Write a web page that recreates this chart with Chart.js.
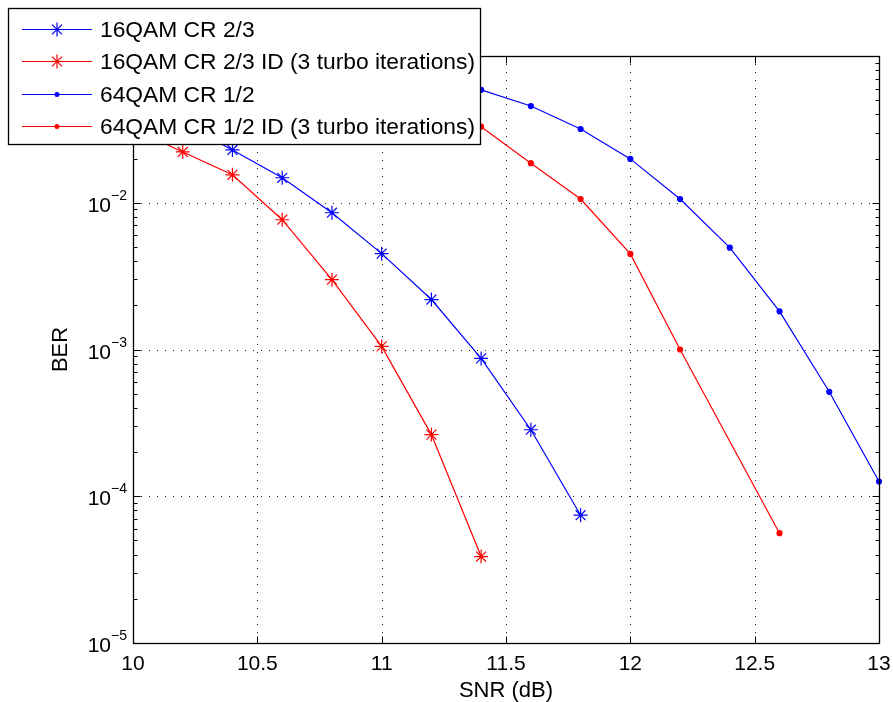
<!DOCTYPE html>
<html>
<head>
<meta charset="utf-8">
<script src="https://cdn.jsdelivr.net/npm/chart.js@4.4.0/dist/chart.umd.min.js"></script>
<style>
  html, body { margin: 0; padding: 0; background: #fff; }
  #wrap { width: 893px; height: 702px; }
</style>
</head>
<body>
<div id="wrap"><canvas id="c" width="893" height="702"></canvas></div>
<script>
// ---- data ----
const snr16 = [10.0, 10.2, 10.4, 10.6, 10.8, 11.0, 11.2, 11.4, 11.6, 11.8];
const ber16 = [0.050, 0.035, 0.0229, 0.0148, 0.00855, 0.0045, 0.00219, 0.00087, 0.000284, 0.0000743];

const snr16id = [10.0, 10.2, 10.4, 10.6, 10.8, 11.0, 11.2, 11.4];
const ber16id = [0.032, 0.0222, 0.0155, 0.00766, 0.00299, 0.00105, 0.000263, 0.0000388];

const snr64 = [11.0, 11.2, 11.4, 11.6, 11.8, 12.0, 12.2, 12.4, 12.6, 12.8, 13.0];
const ber64 = [0.085, 0.072, 0.0588, 0.0456, 0.0318, 0.0199, 0.0106, 0.00494, 0.00182, 0.000515, 0.000126];

const snr64id = [11.0, 11.2, 11.4, 11.6, 11.8, 12.0, 12.2, 12.6];
const ber64id = [0.060, 0.045, 0.033, 0.0186, 0.0106, 0.00448, 0.00100, 0.000056];

const seriesNames = [
  '16QAM CR 2/3',
  '16QAM CR 2/3 ID (3 turbo iterations)',
  '64QAM CR 1/2',
  '64QAM CR 1/2 ID (3 turbo iterations)'
];

const xTicks = [10, 10.5, 11, 11.5, 12, 12.5, 13];
const xTickLabels = ['10', '10.5', '11', '11.5', '12', '12.5', '13'];
const yTickExponents = [-5, -4, -3, -2, -1];
const xTitle = 'SNR (dB)';
const yTitle = 'BER';

// ---- styling ----
const BLUE = '#0000ff';
const RED = '#ff0000';
const FONT = '"Liberation Sans", Arial, Helvetica, sans-serif';

function pts(xs, ys) { return xs.map((x, i) => ({ x: x, y: ys[i] })); }

const styles = [
  { color: BLUE, pointStyle: 'star', radius: 7 },
  { color: RED, pointStyle: 'star', radius: 7 },
  { color: BLUE, pointStyle: 'circle', radius: 2.5 },
  { color: RED, pointStyle: 'circle', radius: 2.5 }
];
const dataSets = [pts(snr16, ber16), pts(snr16id, ber16id), pts(snr64, ber64), pts(snr64id, ber64id)];

const datasets = dataSets.map((d, i) => ({
  label: seriesNames[i],
  data: d,
  showLine: true,
  borderColor: styles[i].color,
  backgroundColor: styles[i].color,
  borderWidth: 1.2,
  tension: 0,
  pointStyle: styles[i].pointStyle,
  pointRadius: styles[i].radius,
  pointHoverRadius: styles[i].radius,
  pointBorderColor: styles[i].color,
  pointBackgroundColor: styles[i].color,
  pointBorderWidth: 1.2,
  clip: false
}));

function seg(ctx, x1, y1, x2, y2) {
  ctx.beginPath(); ctx.moveTo(x1, y1); ctx.lineTo(x2, y2); ctx.stroke();
}

function legendMarker(ctx, style, r, cx, cy, color) {
  ctx.save();
  ctx.strokeStyle = color;
  ctx.fillStyle = color;
  ctx.lineWidth = 1.2;
  if (style === 'star') {
    const d = r * Math.SQRT1_2;
    seg(ctx, cx - r, cy, cx + r, cy);
    seg(ctx, cx, cy - r, cx, cy + r);
    seg(ctx, cx - d, cy - d, cx + d, cy + d);
    seg(ctx, cx - d, cy + d, cx + d, cy - d);
  } else {
    ctx.beginPath();
    ctx.arc(cx, cy, r, 0, Math.PI * 2);
    ctx.fill();
  }
  ctx.restore();
}

const matlabAxes = {
  id: 'matlabAxes',
  beforeDatasetsDraw(chart) {
    const { ctx, chartArea: a, scales: { x, y } } = chart;
    ctx.save();
    ctx.strokeStyle = '#222';
    ctx.lineWidth = 1;
    ctx.setLineDash([1, 7]);
    xTicks.forEach(v => {
      const px = Math.round(x.getPixelForValue(v)) + 0.5;
      if (px > a.left + 1 && px < a.right - 1) seg(ctx, px, a.top, px, a.bottom);
    });
    yTickExponents.forEach(e => {
      const py = Math.round(y.getPixelForValue(Math.pow(10, e))) + 0.5;
      if (py > a.top + 1 && py < a.bottom - 1) seg(ctx, a.left, py, a.right, py);
    });
    ctx.restore();
  },
  afterDatasetsDraw(chart) {
    const { ctx, chartArea: a, scales: { x, y } } = chart;
    ctx.save();
    ctx.setLineDash([]);
    ctx.strokeStyle = '#000';
    ctx.lineWidth = 1;
    const L = Math.round(a.left) + 0.5, R = Math.round(a.right) + 0.5;
    const T = Math.round(a.top) + 0.5, B = Math.round(a.bottom) + 0.5;
    // ticks (inward)
    xTicks.forEach(v => {
      const px = Math.round(x.getPixelForValue(v)) + 0.5;
      seg(ctx, px, B, px, B - 7);
      seg(ctx, px, T, px, T + 7);
    });
    yTickExponents.forEach(e => {
      const py = Math.round(y.getPixelForValue(Math.pow(10, e))) + 0.5;
      seg(ctx, L, py, L + 7, py);
      seg(ctx, R, py, R - 7, py);
      if (e < -1) {
        for (let m = 2; m <= 9; m++) {
          const pm = Math.round(y.getPixelForValue(m * Math.pow(10, e))) + 0.5;
          seg(ctx, L, pm, L + 4, pm);
          seg(ctx, R, pm, R - 4, pm);
        }
      }
    });
    // frame
    ctx.lineWidth = 1.3;
    ctx.strokeRect(L, T, R - L, B - T);

    // tick labels
    ctx.fillStyle = '#000';
    ctx.font = '21px ' + FONT;
    ctx.textAlign = 'center';
    ctx.textBaseline = 'alphabetic';
    xTicks.forEach((v, i) => {
      ctx.fillText(xTickLabels[i], x.getPixelForValue(v), a.bottom + 27);
    });
    yTickExponents.forEach(e => {
      const py = y.getPixelForValue(Math.pow(10, e));
      const sup = '\u2212' + Math.abs(e);
      ctx.font = '14px ' + FONT;
      ctx.textAlign = 'right';
      const supW = ctx.measureText(sup).width;
      const rightX = a.left - 6;
      ctx.fillText(sup, rightX, py - 3);
      ctx.font = '21px ' + FONT;
      ctx.fillText('10', rightX - supW, py + 9);
    });
    // axis titles
    ctx.font = '22px ' + FONT;
    ctx.textAlign = 'center';
    ctx.fillText(xTitle, (a.left + a.right) / 2, a.bottom + 54);
    ctx.save();
    ctx.translate(67, (a.top + a.bottom) / 2);
    ctx.rotate(-Math.PI / 2);
    ctx.fillText(yTitle, 0, 0);
    ctx.restore();

    // legend box (overlapping plot, MATLAB style)
    const bx = 8.5, by = 8.5, bw = 472, bh = 136;
    ctx.fillStyle = '#fff';
    ctx.fillRect(bx, by, bw, bh);
    ctx.strokeStyle = '#000';
    ctx.lineWidth = 1.3;
    ctx.strokeRect(bx, by, bw, bh);
    const rows = [29.5, 61.5, 94.5, 126.5];
    chart.data.datasets.forEach((ds, i) => {
      const ry = rows[i];
      ctx.save();
      ctx.strokeStyle = ds.borderColor;
      ctx.lineWidth = 1.2;
      seg(ctx, 22, ry, 92, ry);
      ctx.restore();
      legendMarker(ctx, ds.pointStyle, ds.pointRadius, 57, ry, ds.borderColor);
      ctx.fillStyle = '#000';
      ctx.font = '22.8px ' + FONT;
      ctx.textAlign = 'left';
      ctx.textBaseline = 'middle';
      ctx.fillText(ds.label, 100, ry + 1);
    });
    ctx.restore();
  }
};

new Chart(document.getElementById('c'), {
  type: 'scatter',
  data: { datasets: datasets },
  options: {
    responsive: false,
    animation: false,
    devicePixelRatio: 1,
    layout: { padding: { left: 133, top: 56, right: 14, bottom: 59 } },
    plugins: { legend: { display: false }, title: { display: false }, tooltip: { enabled: false } },
    scales: {
      x: { type: 'linear', min: 10, max: 13, display: false },
      y: { type: 'logarithmic', min: 1e-5, max: 1e-1, display: false }
    }
  },
  plugins: [matlabAxes]
});
</script>
</body>
</html>
